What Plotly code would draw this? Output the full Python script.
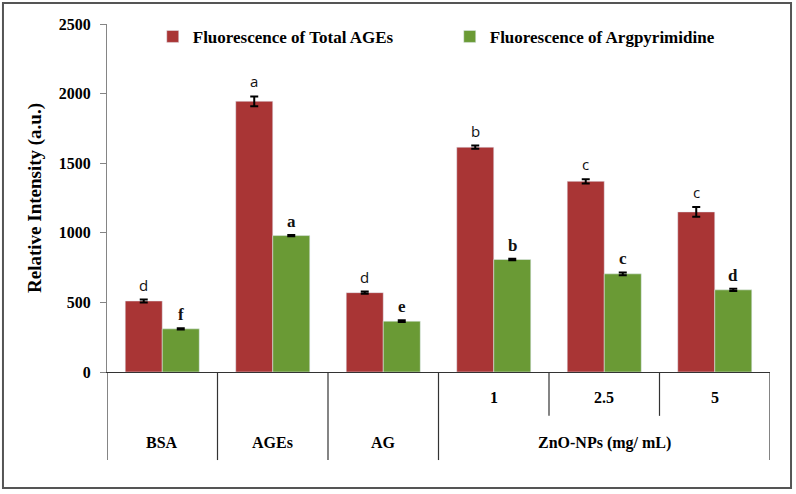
import plotly.graph_objects as go

categories = ["BSA", "AGEs", "AG", "1", "2.5", "5"]
sub_labels = ["", "", "", "1", "2.5", "5"]
group_labels = ["BSA", "AGEs", "AG", "ZnO-NPs (mg/ mL)"]
group_spans = [(0, 0), (1, 1), (2, 2), (3, 5)]

total_ages = [510, 1945, 570, 1615, 1370, 1150]
total_err = [10, 35, 8, 12, 15, 35]
total_letters = ["d", "a", "d", "b", "c", "c"]

argpyr = [310, 980, 365, 808, 705, 590]
argpyr_err = [5, 5, 6, 6, 10, 8]
argpyr_letters = ["f", "a", "e", "b", "c", "d"]

RED = "#A93535"
GREEN = "#6A9A35"
AXIS = "#858585"
SERIF = "Liberation Serif"
BARGAP = 0.33

x = list(range(len(categories)))
half = (1 - BARGAP) / 4  # offset of each bar centre from the category centre

fig = go.Figure()
fig.add_trace(go.Bar(
    x=x, y=total_ages, name="Fluorescence of Total AGEs", marker_color=RED,
    error_y=dict(type="data", array=total_err, color="black", thickness=2, width=4),
))
fig.add_trace(go.Bar(
    x=x, y=argpyr, name="Fluorescence of Argpyrimidine", marker_color=GREEN,
    error_y=dict(type="data", array=argpyr_err, color="black", thickness=2, width=4),
))

ann = []
for i in x:
    ann.append(dict(x=i - half, y=total_ages[i] + total_err[i], xref="x", yref="y",
                    text=total_letters[i], showarrow=False, yanchor="bottom", yshift=3,
                    font=dict(family="Open Sans", size=15, color="#111")))
    ann.append(dict(x=i + half, y=argpyr[i] + argpyr_err[i], xref="x", yref="y",
                    text="<b>%s</b>" % argpyr_letters[i], showarrow=False, yanchor="bottom", yshift=2,
                    font=dict(family=SERIF, size=17, color="#111")))

# table-style category axis
ROW1_Y = -0.072
ROW2_Y = -0.204
FULL_BOTTOM = -0.253
SHORT_BOTTOM = -0.126
shapes = []
for i, lab in enumerate(sub_labels):
    if lab:
        ann.append(dict(x=i, y=ROW1_Y, xref="x", yref="paper", text="<b>%s</b>" % lab,
                        showarrow=False, yanchor="middle",
                        font=dict(family=SERIF, size=16, color="black")))
for lab, (a, b) in zip(group_labels, group_spans):
    ann.append(dict(x=(a + b) / 2, y=ROW2_Y, xref="x", yref="paper", text="<b>%s</b>" % lab,
                    showarrow=False, yanchor="middle",
                    font=dict(family=SERIF, size=16, color="black")))
    for i in range(a, b):
        shapes.append(dict(type="line", xref="x", yref="paper", x0=i + 0.5, x1=i + 0.5,
                           y0=0, y1=SHORT_BOTTOM, line=dict(color="#333", width=1.2)))
full_edges = sorted(set([a - 0.5 for a, b in group_spans] + [b + 0.5 for a, b in group_spans]))
for e in full_edges:
    shapes.append(dict(type="line", xref="x", yref="paper", x0=e, x1=e,
                       y0=0, y1=FULL_BOTTOM, line=dict(color="#333", width=1.2)))

# outer frame
shapes.append(dict(type="rect", xref="paper", yref="paper", x0=-0.1569, x1=1.0317,
                   y0=-0.3333, y1=1.0603, line=dict(color="#555", width=2)))

fig.update_layout(
    width=796, height=494,
    margin=dict(l=107, r=26, t=24, b=122),
    paper_bgcolor="white", plot_bgcolor="white",
    barmode="group", bargap=BARGAP, bargroupgap=0,
    showlegend=True,
    legend=dict(orientation="h", x=0.069, y=0.963, xanchor="left", yanchor="middle",
                font=dict(family=SERIF, size=17, color="black", weight="bold"),
                entrywidth=252, itemwidth=30, bgcolor="rgba(0,0,0,0)"),
    xaxis=dict(range=[-0.5, 5.5], showticklabels=False, ticks="", showgrid=False,
               zeroline=False, showline=True, linecolor="#333", linewidth=1.2),
    yaxis=dict(range=[0, 2500], dtick=500, showgrid=False, zeroline=False,
               showline=True, linecolor=AXIS, linewidth=1.2, ticks="outside",
               ticklen=6, tickcolor=AXIS, ticklabelstandoff=6,
               tickfont=dict(family=SERIF, size=16, color="black", weight="bold"),
               tickformat="d",
               title=dict(text="<b>Relative Intensity (a.u.)</b>", standoff=12,
                          font=dict(family=SERIF, size=19, color="black"))),
    annotations=ann, shapes=shapes,
)

fig.write_html("out.html", config={"displayModeBar": False},
               post_script="document.body.style.margin='0';document.body.style.overflow='hidden';")
